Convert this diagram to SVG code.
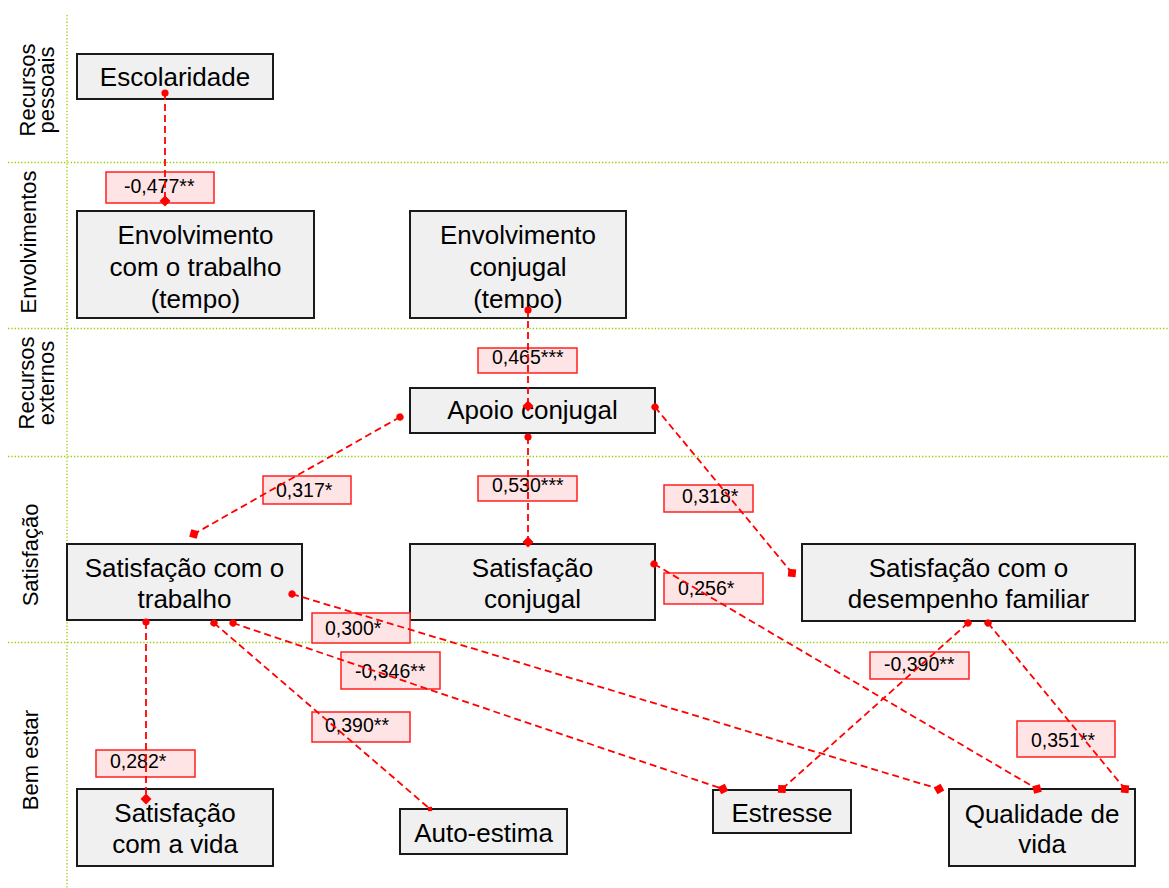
<svg xmlns="http://www.w3.org/2000/svg" width="1169" height="888" viewBox="0 0 1169 888">
<style>
.lane{stroke:#99cc00;stroke-width:1.3;stroke-dasharray:1.3,2;fill:none}
.lt{font-family:"Liberation Sans",Arial,sans-serif;font-size:22px;fill:#000;text-anchor:middle}
.box{fill:#f0f0f0;stroke:#1a1a1a;stroke-width:2}
.nt{font-family:"Liberation Sans",Arial,sans-serif;font-size:26px;fill:#000;text-anchor:middle}
.lb{fill:#ffe4e6;stroke:#ff2020;stroke-width:1.5}
.ll{font-family:"Liberation Sans",Arial,sans-serif;font-size:19.5px;fill:#000}
.c{stroke:#ff0000;stroke-width:1.8;stroke-dasharray:7,4;fill:none;marker-start:url(#dot);marker-end:url(#dia)}
</style>
<defs>
<marker id="dot" markerUnits="userSpaceOnUse" markerWidth="10" markerHeight="10" refX="5" refY="5" orient="auto"><circle cx="5" cy="5" r="3.6" fill="#ff0000"/></marker>
<marker id="dia" markerUnits="userSpaceOnUse" markerWidth="14" markerHeight="14" refX="7" refY="7" orient="auto"><path d="M1.5,7 L7,1.5 L12.5,7 L7,12.5 Z" fill="#ff0000"/></marker>
<marker id="sm" markerUnits="userSpaceOnUse" markerWidth="8" markerHeight="8" refX="4" refY="4" orient="auto"><path d="M1,4 L4,1 L7,4 L4,7 Z" fill="#ff0000"/></marker>
</defs>
<rect width="1169" height="888" fill="#ffffff"/>
<g id="lanes">
<line class="lane" x1="67" y1="15" x2="67" y2="888"/>
<line class="lane" x1="8" y1="162.5" x2="1169" y2="162.5"/>
<line class="lane" x1="8" y1="328.5" x2="1169" y2="328.5"/>
<line class="lane" x1="8" y1="456.5" x2="1169" y2="456.5"/>
<line class="lane" x1="8" y1="642.5" x2="1169" y2="642.5"/>
<text class="lt" transform="translate(35,90) rotate(-90)"><tspan x="0" y="0">Recursos</tspan><tspan x="0" y="19">pessoais</tspan></text>
<text class="lt" transform="translate(36,242) rotate(-90)">Envolvimentos</text>
<text class="lt" transform="translate(34,383) rotate(-90)"><tspan x="0" y="0">Recursos</tspan><tspan x="0" y="20">externos</tspan></text>
<text class="lt" transform="translate(38,555) rotate(-90)">Satisfação</text>
<text class="lt" transform="translate(38,760) rotate(-90)">Bem estar</text>
</g>
<g id="escolaridade"><rect class="box" x="77" y="54" width="196" height="45"/><text class="nt" x="175" y="86">Escolaridade</text></g>
<g id="env-trabalho"><rect class="box" x="77" y="211" width="237" height="107"/><text class="nt"><tspan x="195.5" y="244">Envolvimento</tspan><tspan x="195.5" y="276">com o trabalho</tspan><tspan x="195.5" y="308">(tempo)</tspan></text></g>
<g id="env-conjugal"><rect class="box" x="410" y="211" width="216" height="107"/><text class="nt"><tspan x="518" y="244">Envolvimento</tspan><tspan x="518" y="276">conjugal</tspan><tspan x="518" y="308">(tempo)</tspan></text></g>
<g id="apoio-conjugal"><rect class="box" x="410" y="388" width="245" height="45"/><text class="nt" x="532.5" y="419">Apoio conjugal</text></g>
<g id="sat-trabalho"><rect class="box" x="67" y="544" width="235" height="76"/><text class="nt"><tspan x="184.5" y="577">Satisfação com o</tspan><tspan x="184.5" y="608">trabalho</tspan></text></g>
<g id="sat-conjugal"><rect class="box" x="410" y="544" width="245" height="76"/><text class="nt"><tspan x="532.5" y="577">Satisfação</tspan><tspan x="532.5" y="608">conjugal</tspan></text></g>
<g id="sat-desempenho"><rect class="box" x="802" y="544" width="333" height="77"/><text class="nt"><tspan x="968.5" y="577">Satisfação com o</tspan><tspan x="968.5" y="608">desempenho familiar</tspan></text></g>
<g id="sat-vida"><rect class="box" x="77" y="789" width="196" height="77"/><text class="nt"><tspan x="175" y="822">Satisfação</tspan><tspan x="175" y="853">com a vida</tspan></text></g>
<g id="auto-estima"><rect class="box" x="400" y="809" width="167" height="45"/><text class="nt" x="483.5" y="842">Auto-estima</text></g>
<g id="estresse"><rect class="box" x="713" y="790" width="138" height="43"/><text class="nt" x="782" y="822">Estresse</text></g>
<g id="qualidade-vida"><rect class="box" x="949" y="789" width="186" height="77"/><text class="nt"><tspan x="1042" y="823">Qualidade de</tspan><tspan x="1042" y="853">vida</tspan></text></g>
<g id="labels">
<rect class="lb" x="106" y="172" width="108" height="31"/><text class="ll" x="124" y="193">-0,477**</text>
<rect class="lb" x="478" y="348" width="99" height="25"/><text class="ll" x="492" y="364">0,465***</text>
<rect class="lb" x="478" y="476" width="99" height="25"/><text class="ll" x="492" y="492">0,530***</text>
<rect class="lb" x="263" y="476" width="88" height="28"/><text class="ll" x="276" y="497">0,317*</text>
<rect class="lb" x="664" y="485" width="89" height="27"/><text class="ll" x="682" y="503">0,318*</text>
<rect class="lb" x="664" y="573" width="99" height="31"/><text class="ll" x="678" y="595">0,256*</text>
<rect class="lb" x="312" y="613" width="98" height="30"/><text class="ll" x="325" y="635">0,300*</text>
<rect class="lb" x="341" y="652" width="99" height="37"/><text class="ll" x="355" y="678">-0,346**</text>
<rect class="lb" x="312" y="712" width="98" height="30"/><text class="ll" x="325" y="732">0,390**</text>
<rect class="lb" x="96" y="750" width="99" height="27"/><text class="ll" x="110" y="768">0,282*</text>
<rect class="lb" x="870" y="652" width="99" height="27"/><text class="ll" x="884" y="671">-0,390**</text>
<rect class="lb" x="1017" y="721" width="98" height="36"/><text class="ll" x="1031" y="747">0,351**</text>
</g>
<g id="connectors">
<line class="c" x1="165" y1="93" x2="165" y2="201"/>
<line class="c" x1="528" y1="310" x2="528" y2="406"/>
<line class="c" x1="528" y1="437" x2="528" y2="542"/>
<line class="c" x1="400" y1="417" x2="194" y2="534"/>
<line class="c" x1="655" y1="407" x2="792" y2="573"/>
<line class="c" x1="654" y1="564" x2="1037" y2="789"/>
<line class="c" x1="292" y1="594" x2="939" y2="789"/>
<line class="c" x1="233" y1="623" x2="723" y2="789"/>
<line class="c" x1="214" y1="623" x2="430" y2="809" style="marker-end:url(#sm)"/>
<line class="c" x1="146" y1="622" x2="146" y2="799"/>
<line class="c" x1="968" y1="623" x2="782" y2="789"/>
<line class="c" x1="988" y1="623" x2="1125" y2="789"/>
</g>
</svg>
